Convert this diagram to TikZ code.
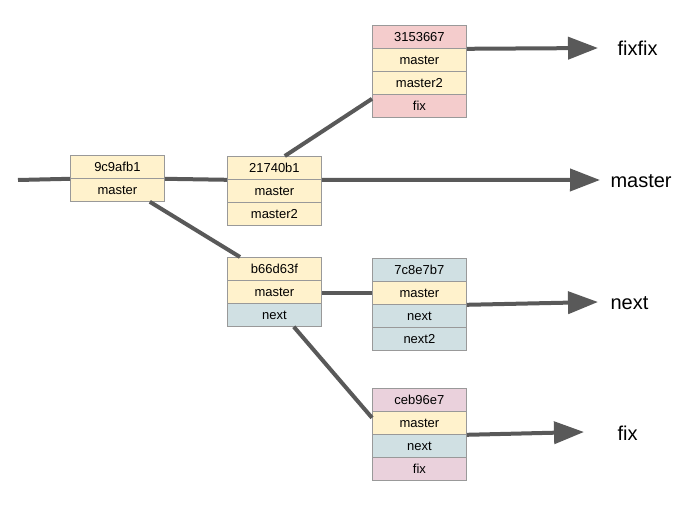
\documentclass[tikz,border=0pt]{standalone}
\usepackage{fontspec}
\setmainfont{Liberation Sans}
\usetikzlibrary{arrows.meta}
\definecolor{cy}{HTML}{FFF2CC}
\definecolor{cr}{HTML}{F4CCCC}
\definecolor{cb}{HTML}{D0E0E3}
\definecolor{cp}{HTML}{EAD1DC}
\definecolor{lc}{HTML}{595959}
\begin{document}
\begin{tikzpicture}[x=1pt,y=-1pt,
  cell/.style={draw=gray!80,line width=0.8pt,minimum width=94pt,minimum height=23pt,inner sep=0pt,anchor=north west,font=\fontsize{13}{13}\selectfont},
  lnk/.style={draw=lc,line width=4pt},
  arr/.style={lnk,-{Triangle[length=30pt,width=22pt]}},
  lab/.style={font=\fontsize{20}{20}\selectfont,anchor=west}]
\useasboundingbox (0,0) rectangle (691,505);
% commit 9c9afb1
\node[cell,fill=cy] (a0) at (70,155) {9c9afb1};
\node[cell,fill=cy] (a1) at (70,178) {master};
% 21740b1
\node[cell,fill=cy] (b0) at (227,156) {21740b1};
\node[cell,fill=cy] (b1) at (227,179) {master};
\node[cell,fill=cy] (b2) at (227,202) {master2};
% 3153667
\node[cell,fill=cr] (c0) at (372,25) {3153667};
\node[cell,fill=cy] (c1) at (372,48) {master};
\node[cell,fill=cy] (c2) at (372,71) {master2};
\node[cell,fill=cr] (c3) at (372,94) {fix};
% b66d63f
\node[cell,fill=cy] (d0) at (227,257) {b66d63f};
\node[cell,fill=cy] (d1) at (227,280) {master};
\node[cell,fill=cb] (d2) at (227,303) {next};
% 7c8e7b7
\node[cell,fill=cb] (e0) at (372,258) {7c8e7b7};
\node[cell,fill=cy] (e1) at (372,281) {master};
\node[cell,fill=cb] (e2) at (372,304) {next};
\node[cell,fill=cb] (e3) at (372,327) {next2};
% ceb96e7
\node[cell,fill=cp] (f0) at (372,388) {ceb96e7};
\node[cell,fill=cy] (f1) at (372,411) {master};
\node[cell,fill=cb] (f2) at (372,434) {next};
\node[cell,fill=cp] (f3) at (372,457) {fix};
% labels
\node[lab] (lfixfix) at (614,48) {fixfix};
\node[lab] (lmaster) at (607,181) {master};
\node[lab] (lnext) at (607,303) {next};
\node[lab] (lfix) at (614,433) {fix};
\coordinate (start) at (18,180);
\coordinate (ta) at (598,48);
\coordinate (tb) at (600,180);
\coordinate (tc) at (598,302);
\coordinate (td) at (584,432);
% connectors
\draw[lnk] (start) -- (a0.south west);
\draw[lnk] (a0.south east) -- (b0.south west);
\draw[arr] (b0.south east) -- (tb);
\draw[lnk] ([xshift=-15pt]a1.south east) -- ([xshift=13pt]d0.north west);
\draw[lnk] ([xshift=-37pt]b0.north east) -- ([yshift=-4pt]c2.south west);
\draw[arr] (c0.south east) -- (ta);
\draw[lnk] ([yshift=-1pt]d1.east) -- (e1.west);
\draw[arr] (e1.south east) -- (tc);
\draw[lnk] ([xshift=-28pt]d2.south east) -- ([yshift=-6pt]f0.south west);
\draw[arr] (f1.south east) -- (td);
\end{tikzpicture}
\end{document}
